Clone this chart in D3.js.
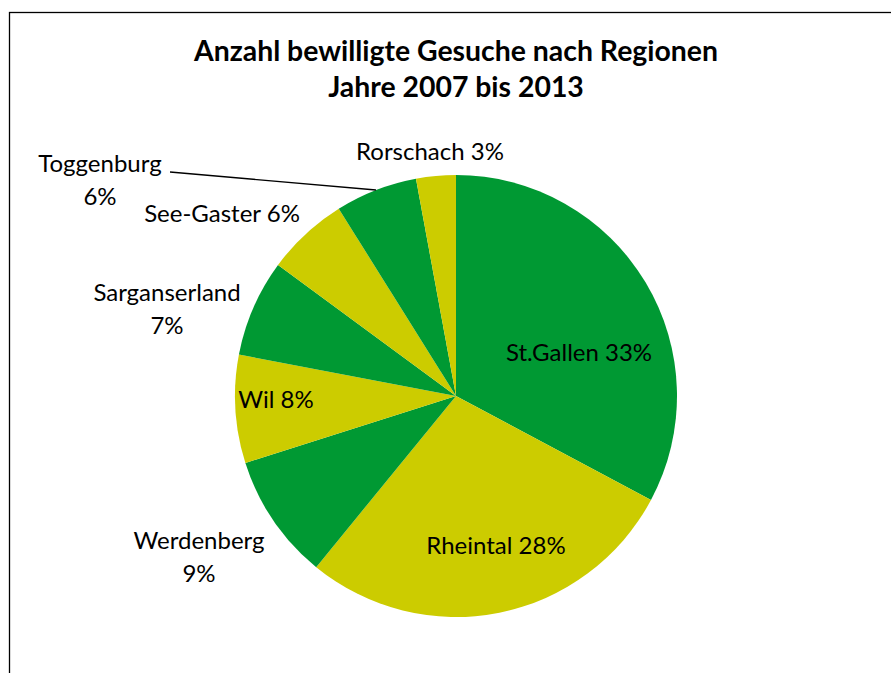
<!DOCTYPE html>
<html>
<head>
<meta charset="utf-8">
<script src="https://cdn.jsdelivr.net/npm/d3@7"></script>
<style>
  body { margin: 0; background: #fff; }
  text { font-family: Lato, "Open Sans", sans-serif; fill: #000; }
</style>
</head>
<body>
<svg id="chart"></svg>
<script>
// region shares (percent, clockwise from 12 o'clock)
const regions = ['St.Gallen', 'Rheintal', 'Werdenberg', 'Wil', 'Sarganserland', 'See-Gaster', 'Toggenburg', 'Rorschach'];
const shares = [32.8, 28.1, 9.2, 7.9, 7.1, 6.0, 6.0, 2.9];
const shareLabels = ['33%', '28%', '9%', '8%', '7%', '6%', '6%', '3%'];
const titleLines = ['Anzahl bewilligte Gesuche nach Regionen', 'Jahre 2007 bis 2013'];

const width = 891, height = 673;
const cx = 456, cy = 396, radius = 221;

const svg = d3.select('#chart')
    .attr('width', width)
    .attr('height', height);

// outer frame (chart area runs off the right / bottom)
svg.append('rect')
    .attr('x', 9.5).attr('y', 12.5)
    .attr('width', 900).attr('height', 700)
    .attr('fill', 'none')
    .attr('stroke', '#000')
    .attr('stroke-width', 1.3);

svg.selectAll('.title')
  .data(titleLines)
  .join('text')
    .attr('class', 'title')
    .attr('x', cx)
    .attr('y', (d, i) => 61 + i * 36)
    .attr('text-anchor', 'middle')
    .attr('font-size', 28.4)
    .attr('font-weight', 'bold')
    .text(d => d);

const data = regions.map((r, i) => ({ region: r, value: shares[i], label: shareLabels[i] }));

const pie = d3.pie().sort(null).value(d => d.value);
const arc = d3.arc().innerRadius(0).outerRadius(radius);
const colour = d3.scaleOrdinal()
    .domain(regions)
    .range(['#009933', '#cccc00']);

const g = svg.append('g').attr('transform', `translate(${cx},${cy})`);
const arcs = pie(data);

g.selectAll('.slice')
  .data(arcs)
  .join('path')
    .attr('class', 'slice')
    .attr('d', arc)
    .attr('fill', (d, i) => i % 2 === 0 ? colour.range()[0] : colour.range()[1]);

// label placement (offset from pie centre) and whether text is split on two lines
const labelPos = [[123, -35], [40, 158], [-257, 161], [-180, 12], [-289, -87], [-234, -174], [-356, -216], [-26, -236]];
const twoLine = [false, false, true, false, true, false, true, false];

const labels = g.selectAll('.lbl')
  .data(arcs)
  .join('text')
    .attr('class', 'lbl')
    .attr('text-anchor', 'middle')
    .attr('font-size', 24)
    .attr('transform', (d, i) => `translate(${labelPos[i][0]},${labelPos[i][1]})`);

labels.each(function(d, i) {
  const t = d3.select(this);
  if (twoLine[i]) {
    t.append('tspan').attr('x', 0).attr('y', -8).text(d.data.region);
    t.append('tspan').attr('x', 0).attr('y', 25).text(d.data.label);
  } else {
    t.append('tspan').attr('x', 0).attr('y', 0).text(d.data.region + ' ' + d.data.label);
  }
});

// leader line for Toggenburg
const tog = arcs[6];
const mid = (tog.startAngle + tog.endAngle) / 2;
const edge = [Math.sin(mid) * radius, -Math.cos(mid) * radius];
g.append('path')
    .attr('d', d3.line()([[170 - cx, 172 - cy], [edge[0], edge[1]]]))
    .attr('fill', 'none')
    .attr('stroke', '#000')
    .attr('stroke-width', 1.3);
</script>
</body>
</html>
